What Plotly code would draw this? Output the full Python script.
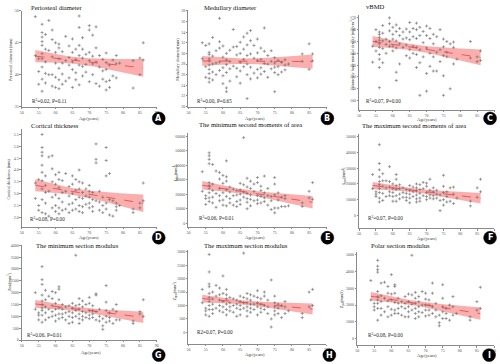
import numpy as np
import plotly.graph_objects as go

# ---------------- data ----------------
AGES = [54, 54, 55, 55, 55,
        56, 56, 56, 56, 56, 56, 56, 56, 56, 56,
        57, 57, 57, 57, 57, 58, 58, 58, 59, 59, 59, 59, 59,
        60, 60, 60, 60, 60, 61, 61, 61, 61, 61, 61,
        62, 62, 62, 62, 63, 63, 63, 64, 64, 64, 64,
        65, 65, 65, 65, 65, 66, 66, 66, 66,
        67, 67, 67, 67, 67, 67, 68, 68, 68, 68, 68, 69, 69, 69,
        70, 70, 70, 70, 70, 71, 71, 71, 71, 72, 72, 72, 72,
        73, 73, 73, 74, 74, 74, 75, 75, 75, 75, 75, 76, 76, 76,
        77, 77, 78, 78, 78, 79, 83, 83, 85, 85, 86, 86]

PERIOSTEAL = [49.1, 43.0, 42.5, 40.5, 38.5,
              47.9, 46.6, 45.9, 45.2, 44.6, 43.3, 42.5, 41.2, 39.3, 37.4,
              46.3, 42.0, 40.2, 38.7, 44.0, 48.5, 43.8, 40.0, 47.0, 45.5, 42.8, 40.0, 38.2,
              45.0, 43.5, 41.8, 39.6, 38.0, 44.8, 44.2, 42.5, 41.0, 39.2, 37.8,
              43.6, 41.8, 40.1, 38.5, 46.0, 42.2, 39.0, 44.5, 42.7, 41.5, 39.5,
              45.6, 43.5, 42.0, 40.8, 38.0, 44.0, 42.4, 40.3, 39.2,
              49.2, 47.4, 44.6, 43.0, 41.5, 38.4, 45.8, 44.0, 42.6, 41.3, 39.8, 43.2, 41.6, 40.4,
              47.7, 47.0, 43.5, 42.2, 38.9, 46.2, 42.9, 41.7, 40.0, 47.5, 44.2, 42.0, 38.6,
              43.0, 41.2, 38.2, 42.4, 40.6, 39.3, 43.4, 41.9, 40.8, 38.9, 37.6, 41.5, 39.1, 38.0,
              42.3, 39.8, 43.0, 41.7, 39.5, 41.8, 42.2, 37.9, 42.6, 40.0, 45.0, 42.3]

MEDULLARY = [32.0, 29.0, 31.5, 27.5, 25.5,
             31.8, 30.2, 29.8, 29.0, 28.6, 27.8, 27.0, 26.2, 25.3, 24.6,
             33.0, 29.5, 28.0, 26.5, 25.0, 30.5, 28.2, 26.0, 36.6, 32.2, 31.0, 28.4, 26.8,
             31.4, 29.3, 27.3, 25.8, 24.3, 30.0, 28.8, 27.9, 26.4, 23.5, 22.8,
             30.6, 28.5, 27.1, 24.8, 34.5, 31.2, 27.6, 31.3, 29.7, 27.2, 25.6,
             32.1, 30.0, 28.3, 26.7, 24.4, 33.1, 30.8, 28.9, 27.5,
             33.8, 31.6, 29.6, 28.0, 26.0, 21.5, 34.3, 32.4, 29.9, 27.4, 25.2, 31.5, 29.1, 26.3,
             32.7, 30.1, 28.7, 27.0, 25.4, 31.0, 28.9, 27.3, 26.1, 34.8, 30.4, 28.1, 26.6,
             29.6, 28.0, 25.5, 30.5, 28.5, 27.1, 29.2, 28.2, 27.4, 26.4, 22.8, 28.7, 27.5, 26.0,
             28.3, 26.5, 28.8, 27.8, 26.9, 28.0, 29.9, 28.5, 31.8, 27.0, 29.9, 28.6]

VBMD = [132.5, 146.0, 160.0, 150.0, 142.0,
        158.0, 156.0, 153.5, 151.0, 148.0, 145.0, 139.0, 135.0, 128.0, 111.0,
        163.5, 157.0, 150.5, 144.0, 132.0, 152.0, 147.5, 140.0, 170.0, 165.0, 159.0, 150.0, 146.0,
        162.0, 156.0, 152.0, 146.0, 142.0, 164.0, 158.5, 150.5, 144.5, 124.0, 117.0,
        161.0, 155.0, 148.0, 131.0, 158.0, 152.0, 145.0, 160.5, 153.0, 147.0, 138.0,
        166.0, 158.0, 151.5, 143.0, 136.0, 161.0, 154.0, 146.0, 140.0,
        165.5, 160.0, 152.5, 145.0, 139.0, 128.0, 162.0, 155.0, 143.0, 132.0, 104.5, 158.5, 149.0, 137.0,
        163.0, 155.0, 144.5, 123.0, 108.0, 161.0, 152.5, 140.0, 129.0, 156.0, 148.0, 137.0, 125.0,
        154.0, 141.0, 125.0, 160.0, 143.0, 133.0, 152.0, 145.5, 138.0, 121.0, 104.5, 150.0, 141.0, 137.0,
        148.0, 110.0, 149.5, 145.0, 131.0, 135.0, 150.0, 136.0, 137.0, 133.0, 142.0, 134.0]

CORTICAL = [3.45, 2.8, 3.6, 2.5, 2.3,
            5.5, 4.95, 4.75, 4.6, 4.2, 3.9, 3.55, 3.2, 2.75, 2.2,
            3.75, 3.35, 3.05, 2.6, 2.15, 4.55, 3.1, 2.05, 4.6, 4.05, 3.5, 2.85, 2.4,
            3.8, 3.4, 2.95, 2.5, 2.25, 3.9, 3.6, 3.25, 2.8, 2.4, 2.15,
            3.55, 3.05, 2.65, 2.3, 3.85, 3.1, 2.35, 3.3, 2.9, 2.55, 2.2,
            3.75, 3.4, 3.0, 2.6, 2.3, 3.6, 3.15, 2.75, 2.35,
            4.0, 3.5, 3.2, 2.85, 2.5, 2.25, 3.45, 3.05, 2.8, 2.45, 2.2, 3.2, 2.9, 2.55,
            3.35, 3.1, 2.85, 2.6, 2.4, 3.05, 2.75, 2.45, 2.25, 5.1, 4.45, 4.3, 2.7,
            3.1, 2.65, 2.3, 2.85, 2.5, 2.2, 4.95, 4.4, 3.75, 2.6, 2.35, 3.85, 2.75, 2.1,
            2.7, 2.05, 2.6, 2.45, 2.3, 2.5, 2.35, 2.2, 2.6, 2.4, 3.45, 2.7]

I_MIN = [35500, 22000, 19000, 17000, 13000,
         48500, 46500, 44000, 41000, 28000, 26000, 24000, 21000, 17500, 15000,
         40500, 27000, 22500, 18000, 14000, 36000, 20500, 11000, 35000, 30500, 24000, 19000, 15500,
         33000, 27500, 21000, 16000, 12500, 43000, 32000, 29000, 23000, 18500, 12000,
         25000, 21500, 17000, 14000, 23500, 19000, 12500, 22500, 19500, 15000, 11500,
         27500, 23000, 20000, 16000, 13000, 59000, 26500, 21500, 18000,
         31000, 25000, 20500, 17000, 14500, 10000, 29000, 24000, 19500, 16500, 12000, 27000, 22000, 15500,
         31500, 28000, 19000, 16000, 13500, 25500, 22500, 18500, 14000, 32500, 21000, 17500, 15000,
         24000, 19000, 12500, 18500, 15500, 9500, 31500, 27000, 19500, 10500, 7200, 21000, 16000, 10500,
         18000, 11500, 19000, 17000, 11500, 12000, 14000, 11500, 22000, 17500, 28000, 16500]

I_MAX = [26000, 17000, 15000, 13500, 12000,
         45000, 33000, 29000, 24500, 21500, 19500, 17000, 14500, 11000, 8500,
         26500, 22000, 18500, 14000, 9500, 22000, 17500, 12000, 31000, 21500, 18000, 15000, 12500,
         20000, 17000, 14500, 12000, 9000, 26000, 23000, 19000, 16500, 12500, 9000,
         19500, 17000, 13500, 10500, 17500, 14500, 11500, 16500, 14000, 11500, 9500,
         19000, 16000, 13500, 11000, 8000, 53500, 18000, 15000, 12000,
         20000, 17500, 15500, 13000, 10500, 8500, 19500, 16500, 14000, 11000, 9000, 21000, 17000, 12500,
         20500, 18500, 14500, 12000, 10000, 23000, 16000, 13000, 11000, 17500, 15000, 12500, 10500,
         16000, 13500, 11000, 13000, 9500, 3000, 25500, 18500, 14500, 10000, 6500, 15000, 12000, 8500,
         17500, 9000, 18000, 13500, 7500, 11000, 9000, 6000, 17500, 11500, 23000, 15000]

Z_MIN = [2000, 1300, 1150, 1050, 850,
         3100, 2550, 2350, 1900, 1650, 1500, 1350, 1250, 1050, 750,
         2100, 1700, 1400, 1150, 850, 1850, 1300, 950, 2050, 1750, 1450, 1200, 1000,
         2000, 1550, 1300, 1050, 800, 2250, 2150, 1700, 1350, 1100, 900,
         1500, 1300, 1100, 950, 1400, 1150, 850, 1450, 1200, 1000, 700,
         1550, 1350, 1150, 950, 750, 3580, 1450, 1250, 1000,
         1750, 1500, 1300, 1100, 900, 700, 1650, 1400, 1200, 1000, 850, 1500, 1150, 950,
         1800, 1550, 1250, 1050, 900, 1450, 1250, 1100, 950, 1950, 1900, 1200, 850,
         1300, 1000, 800, 900, 600, 450, 2300, 1600, 1250, 1000, 750, 1150, 950, 800,
         1300, 700, 1500, 1200, 850, 850, 800, 700, 1200, 1100, 1700, 1000]

Z_MAX = [1600, 1100, 900, 800, 650,
         2900, 2250, 1800, 1700, 1450, 1300, 1150, 1000, 850, 600,
         1500, 1250, 1050, 850, 700, 1750, 1350, 900, 1650, 1400, 1200, 1000, 800,
         2100, 1450, 1150, 950, 750, 1600, 1400, 1250, 1050, 850, 650,
         1300, 1100, 950, 800, 1250, 1000, 750, 1200, 1050, 900, 600,
         1350, 1150, 1000, 850, 650, 2950, 1300, 1100, 900,
         1450, 1250, 1100, 950, 800, 600, 1400, 1200, 1050, 900, 750, 1350, 1050, 850,
         1550, 1300, 1100, 950, 650, 1250, 1050, 900, 750, 1500, 1350, 1000, 850,
         1200, 950, 700, 1950, 500, 200, 1350, 1100, 950, 800, 650, 1050, 900, 700,
         1000, 550, 1150, 950, 700, 800, 700, 550, 1500, 950, 1600, 1000]

Z_POL = [3450, 2300, 2100, 1900, 1700,
         4650, 4300, 4100, 3950, 2800, 2500, 2300, 2100, 1800, 1100,
         3300, 2550, 2200, 1800, 1400, 3350, 2400, 1600, 3100, 2700, 2250, 1900, 1300,
         3800, 2650, 2300, 1750, 1400, 3200, 3100, 2700, 2150, 1700, 1500,
         2400, 2100, 1800, 1500, 2200, 1900, 1400, 2500, 2100, 1800, 1300,
         2650, 2200, 1900, 1600, 1300, 4950, 2600, 2050, 1700,
         2750, 2400, 2100, 1800, 1500, 1200, 2500, 2200, 1900, 1600, 1300, 2800, 2000, 1550,
         2700, 2350, 2000, 1700, 1350, 2300, 2000, 1700, 1400, 3300, 2700, 1900, 1500,
         2100, 1700, 1300, 1400, 950, 770, 3200, 2400, 1900, 1600, 1200, 1800, 1500, 1200,
         2000, 1100, 2500, 1900, 1400, 1500, 1300, 1100, 2200, 1700, 3050, 1800]

SERIES = [PERIOSTEAL, MEDULLARY, VBMD, CORTICAL, I_MIN, I_MAX, Z_MIN, Z_MAX, Z_POL]

TITLES = ["Periosteal diameter", "Medullary diameter", "vBMD",
          "Cortical thickness", "The minimum second moments of area",
          "The maximum second moments of area",
          "The minimum section modulus", "The maximum section modulus",
          "Polar section modulus"]
Y_TITLES = ["Periosteal diameter (mm)", "Medullary diameter(mm)",
            "volumetric bone mineral density (mg/cm<sup>3</sup>)",
            "Cortical thickness (mm)", "I<sub>min</sub>(mm<sup>4</sup>)",
            "I<sub>max</sub>(mm<sup>4</sup>)", "Z<sub>min</sub>(mm<sup>3</sup>)",
            "Z<sub>max</sub>(mm<sup>3</sup>)", "Z<sub>pol</sub>(mm3)"]
STATS = ["R<sup>2</sup>=0.02, P=0.11", "R<sup>2</sup>=0.00, P=0.65",
         "R<sup>2</sup>=0.07, P=0.00", "R<sup>2</sup>=0.08, P=0.00",
         "R<sup>2</sup>=0.06, P=0.01", "R<sup>2</sup>=0.07, P=0.00",
         "R<sup>2</sup>=0.06, P=0.01", "R2=0.07, P=0.00",
         "R<sup>2</sup>=0.08, P=0.00"]
LETTERS = ["A", "B", "C", "D", "E", "F", "G", "H", "I"]
X_TICKS = [50, 55, 60, 65, 70, 75, 80, 85, 90]
Y_TICKS = [[35, 40, 45, 50],
           [20, 22, 24, 26, 28, 30, 32, 34, 36, 38],
           [100, 110, 120, 130, 140, 150, 160, 170],
           [2.0, 2.5, 3.0, 3.5, 4.0, 4.5, 5.0, 5.5],
           [0, 10000, 20000, 30000, 40000, 50000, 60000],
           [0, 10000, 20000, 30000, 40000, 50000],
           [0, 500, 1000, 1500, 2000, 2500, 3000, 3500, 4000],
           [0, 500, 1000, 1500, 2000, 2500, 3000],
           [0, 1000, 2000, 3000, 4000, 5000]]

# ---------------- layout geometry (pixels) ----------------
W, H = 500, 364
BOX = [(20, 156, 8, 105), (188, 327, 8, 105), (360, 496, 12.6, 108),
       (20, 156, 128, 226.7), (188, 327, 131.7, 226.7), (360, 496, 133.3, 228.3),
       (20, 156, 245.7, 341.7), (188, 327, 250, 345.5), (358, 496, 252.7, 347)]
YR = [(35, 50), (20, 38), (92.5, 172), (1.61, 5.72), (-2300, 62250),
      (-8160, 51500), (0, 4000), (-424, 3083), (-384, 5130)]
TITLE_POS = [(27, 5, "left"), (202, 5, "left"), (365, 4, "left"),
             (27, 124, "left"), (250, 123.5, "center"), (415, 124, "center"),
             (32, 246, "left"), (202, 246, "left"), (370, 246, "left")]
YT_POS = [(8, 57), (177, 57), (353, 52), (7, 178), (175, 172), (345, 175),
          (7, 282), (175, 292), (343, 300)]
STAT_POS = [(28, 99), (195, 99), (365, 99), (26, 219), (197, 218), (367, 218),
            (23, 337), (195, 334), (367, 337)]
XT_POS = [(88, 117.5), (255, 117.5), (428, 118.5), (88, 237.5), (255, 237.5),
          (428, 238.5), (90, 354.5), (255, 356.5), (428, 357.5)]
CIRCLES = [(158, 117), (328, 117), (492, 117), (158, 238), (328, 238),
           (492, 238), (158, 357), (330, 357), (491, 357)]

SERIF = "Liberation Serif, Times New Roman, serif"
AX_COLOR = "#8a8a8a"


def fit_band(x, y):
    x = np.asarray(x, float)
    y = np.asarray(y, float)
    n = len(x)
    b, a = np.polyfit(x, y, 1)
    xs = np.linspace(x.min(), x.max(), 60)
    yh = a + b * xs
    s = np.sqrt(np.sum((y - (a + b * x)) ** 2) / (n - 2))
    sxx = np.sum((x - x.mean()) ** 2)
    se = s * np.sqrt(1.0 / n + (xs - x.mean()) ** 2 / sxx)
    return xs, yh, yh - 1.98 * se, yh + 1.98 * se


fig = go.Figure()
annotations = []
shapes = []

for i, vals in enumerate(SERIES):
    k = "" if i == 0 else str(i + 1)
    xa, ya = "x" + k, "y" + k
    n = min(len(AGES), len(vals))
    x, y = AGES[:n], vals[:n]
    xs, yh, lo, hi = fit_band(x, y)

    fig.add_trace(go.Scatter(
        x=list(xs) + list(xs[::-1]), y=list(hi) + list(lo[::-1]),
        fill="toself", fillcolor="rgba(247,120,120,0.6)",
        line=dict(width=0), mode="lines", xaxis=xa, yaxis=ya,
        hoverinfo="skip", showlegend=False))
    fig.add_trace(go.Scatter(
        x=x, y=y, mode="markers", xaxis=xa, yaxis=ya, cliponaxis=False,
        marker=dict(symbol="cross-thin", size=2.2,
                    line=dict(width=0.6, color="#6a6a6a")),
        showlegend=False))
    fig.add_trace(go.Scatter(
        x=xs, y=yh, mode="lines", xaxis=xa, yaxis=ya,
        line=dict(color="#d84a4a", width=0.8, dash="dash"),
        showlegend=False))

    l, r, t, b = BOX[i]
    axis_common = dict(showline=True, linecolor=AX_COLOR, linewidth=0.8,
                       ticks="outside", ticklen=1.5, tickwidth=0.6,
                       tickcolor=AX_COLOR, showgrid=False, zeroline=False,
                       tickfont=dict(family=SERIF, size=4, color="#555"))
    fig.update_layout(**{
        "xaxis" + k: dict(domain=[l / W, r / W], anchor=ya, range=[50, 90],
                          tickvals=X_TICKS, **axis_common),
        "yaxis" + k: dict(domain=[1 - b / H, 1 - t / H], anchor=xa,
                          range=list(YR[i]), tickvals=Y_TICKS[i],
                          tickformat=".1f" if i == 3 else "d",
                          **axis_common),
    })

    tx, ty, al = TITLE_POS[i]
    annotations.append(dict(text=TITLES[i], x=tx / W, y=1 - ty / H,
                            xref="paper", yref="paper", xanchor=al,
                            yanchor="middle", showarrow=False,
                            font=dict(family=SERIF, size=6.6, color="#111")))
    yx, yy = YT_POS[i]
    annotations.append(dict(text=Y_TITLES[i], x=yx / W, y=1 - yy / H,
                            xref="paper", yref="paper", xanchor="center",
                            yanchor="middle", textangle=-90, showarrow=False,
                            font=dict(family=SERIF, size=4.2, color="#333")))
    sx, sy = STAT_POS[i]
    annotations.append(dict(text=STATS[i], x=sx / W, y=1 - sy / H,
                            xref="paper", yref="paper", xanchor="left",
                            yanchor="middle", showarrow=False,
                            font=dict(family=SERIF, size=5.2, color="#222")))
    ax_, ay_ = XT_POS[i]
    annotations.append(dict(text="Age(years)", x=ax_ / W, y=1 - ay_ / H,
                            xref="paper", yref="paper", xanchor="center",
                            yanchor="middle", showarrow=False,
                            font=dict(family=SERIF, size=4.4, color="#333")))
    cx, cy = CIRCLES[i]
    rr = 6.5
    shapes.append(dict(type="circle", xref="paper", yref="paper",
                       x0=(cx - rr) / W, x1=(cx + rr) / W,
                       y0=1 - (cy + rr) / H, y1=1 - (cy - rr) / H,
                       fillcolor="#000", line=dict(color="#000", width=0.5)))
    annotations.append(dict(text="<b>" + LETTERS[i] + "</b>", x=cx / W,
                            y=1 - cy / H, xref="paper", yref="paper",
                            xanchor="center", yanchor="middle",
                            showarrow=False,
                            font=dict(family="DejaVu Sans, Arial", size=8,
                                      color="#fff")))

fig.update_layout(width=W, height=H, margin=dict(l=0, r=0, t=0, b=0),
                  paper_bgcolor="white", plot_bgcolor="white",
                  annotations=annotations, shapes=shapes, showlegend=False)

fig.write_html("out.html",
               config={"displayModeBar": False},
               post_script="document.body.style.margin='0';"
                           "document.body.style.padding='0';"
                           "document.body.style.overflow='hidden';")
